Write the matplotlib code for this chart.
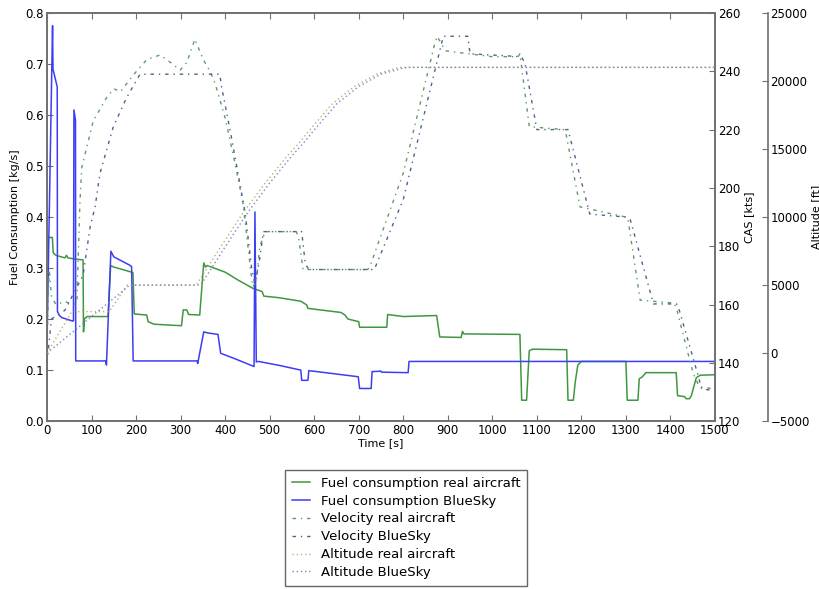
import numpy as np
import matplotlib.pyplot as plt

# fuel flow, real aircraft [kg/s]
t_fuel_real = [0, 12, 14, 20, 40, 44, 47, 60, 81, 82, 84, 87, 90, 137, 143, 150, 190, 193,
               196, 224, 227, 240, 302, 306, 314, 318, 343, 352, 356, 360, 400, 430, 463,
               483, 487, 520, 570, 583, 586, 660, 669, 676, 700, 702, 763, 765, 800, 875,
               882, 930, 933, 936, 1062, 1066, 1077, 1083, 1090, 1167, 1170, 1182, 1186,
               1192, 1200, 1300, 1303, 1327, 1330, 1337, 1345, 1413, 1416, 1432, 1435,
               1443, 1447, 1458, 1467, 1500]
fuel_real = [0.36, 0.36, 0.33, 0.325, 0.32, 0.325, 0.32, 0.318, 0.316, 0.175, 0.20, 0.203,
             0.205, 0.205, 0.305, 0.302, 0.292, 0.291, 0.21, 0.208, 0.195, 0.19, 0.187,
             0.218, 0.218, 0.209, 0.208, 0.31, 0.302, 0.305, 0.292, 0.276, 0.26, 0.254,
             0.245, 0.242, 0.235, 0.228, 0.221, 0.213, 0.208, 0.200, 0.195, 0.184, 0.184,
             0.209, 0.205, 0.207, 0.165, 0.164, 0.176, 0.171, 0.170, 0.041, 0.041, 0.138,
             0.141, 0.140, 0.041, 0.041, 0.075, 0.11, 0.117, 0.117, 0.041, 0.041, 0.083,
             0.087, 0.095, 0.095, 0.050, 0.048, 0.044, 0.044, 0.05, 0.085, 0.09, 0.091]

# fuel flow, BlueSky [kg/s]
t_fuel_bs = [0, 12.5, 13.5, 23, 23.5, 27, 33, 58, 59.5, 60.5, 64, 64.5, 132, 133.5, 143.5,
             150, 185, 190, 193.5, 337, 338.5, 352, 360, 384, 390, 420, 465, 467, 470,
             475, 523, 570, 572, 586, 588, 699, 702, 728, 730, 750, 751, 811, 813, 1500]
fuel_bs = [0.15, 0.775, 0.69, 0.655, 0.215, 0.208, 0.203, 0.196, 0.197, 0.61, 0.59, 0.118,
           0.118, 0.110, 0.333, 0.322, 0.306, 0.303, 0.118, 0.118, 0.113, 0.175, 0.173,
           0.17, 0.133, 0.123, 0.107, 0.41, 0.116, 0.117, 0.109, 0.100, 0.08, 0.08, 0.099,
           0.087, 0.064, 0.064, 0.097, 0.098, 0.096, 0.095, 0.117, 0.117]

# calibrated airspeed [kts]
t_cas_real = [0, 5, 10, 20, 40, 60, 67, 74, 78, 104, 134, 150, 165, 180, 201, 224, 254, 269,
              299, 314, 332, 351, 366, 377, 385, 400, 420, 440, 455, 462, 470, 478, 490,
              560, 566, 575, 720, 725, 800, 870, 876, 895, 1000, 1058, 1062, 1083, 1160,
              1165, 1197, 1300, 1305, 1332, 1408, 1413, 1451, 1465, 1500]
cas_real = [148, 172, 163, 160, 161, 160, 161, 195, 207, 223, 231, 234, 233, 236, 240, 244,
            245.6, 244, 240.4, 243, 251, 244, 240, 236, 232, 224, 210, 195, 175, 166, 168,
            180, 185, 185, 182, 172, 172, 173, 205, 249, 252, 247, 245, 245, 246, 221, 220,
            219, 193.5, 190, 189, 161.5, 160.5, 159, 136.4, 131.8, 131]

t_cas_bs = [0, 10, 40, 81, 97, 108, 119, 149, 179, 194, 209, 388, 392, 411, 429, 445, 460,
            467, 476, 486, 572, 580, 588, 735, 800, 890, 945, 950, 1065, 1073, 1100, 1170,
            1219, 1302, 1310, 1362, 1414, 1420, 1463, 1470, 1500]
cas_bs = [140, 155, 158, 170, 186.7, 193.5, 205, 221, 231, 235, 239, 239, 234.7, 219.9, 205,
          191.4, 172, 167, 174, 185, 185, 174, 172, 172, 196, 252, 252, 246, 245, 243, 220,
          220, 191, 190, 189, 160.2, 160.2, 158, 135.2, 131, 130.5]

# altitude [ft]
t_alt_real = [0, 55, 60, 140, 180, 335, 390, 440, 490, 540, 565, 590, 640, 690, 740, 790,
              800, 1500]
alt_real = [0, 3000, 3050, 3050, 5000, 5000, 7800, 10300, 12500, 14500, 15400, 16400, 18300,
            19600, 20500, 21000, 21000, 21000]

t_alt_bs = [0, 186, 345, 400, 450, 500, 550, 575, 600, 650, 700, 750, 800, 810, 1500]
alt_bs = [0, 5000, 5000, 7800, 10300, 12500, 14500, 15400, 16400, 18300, 19600, 20500,
          20950, 21000, 21000]

plt.rcParams['font.family'] = 'DejaVu Sans'
plt.rcParams['xtick.direction'] = 'in'
plt.rcParams['ytick.direction'] = 'in'

spine_col = '#707070'
dashdot = (0, (2.5, 3.5, 1, 3.5))
dotted = (0, (1, 2))

fig = plt.figure(figsize=(8.2, 5.89), dpi=100)
ax = fig.add_axes([0.0573, 0.285, 0.8146, 0.693])

l1, = ax.plot(t_fuel_real, fuel_real, color='#3f973f', lw=1.1, label='Fuel consumption real aircraft')
l2, = ax.plot(t_fuel_bs, fuel_bs, color='#3d3df5', lw=1.1, label='Fuel consumption BlueSky')
ax.set_xlim(0, 1500)
ax.set_ylim(0, 0.8)
ax.set_xticks(np.arange(0, 1501, 100))
ax.set_yticks(np.arange(0, 0.81, 0.1))
ax.set_xlabel('Time [s]', fontsize=8, labelpad=1)
ax.set_ylabel('Fuel Consumption [kg/s]', fontsize=8, labelpad=4)
ax.tick_params(labelsize=8.5, top=True, length=4, color=spine_col, pad=2)

ax2 = ax.twinx()
l3, = ax2.plot(t_cas_real, cas_real, color='#5f9a6a', lw=1.0, ls=dashdot, label='Velocity real aircraft')
l4, = ax2.plot(t_cas_bs, cas_bs, color='#55608f', lw=1.0, ls=dashdot, label='Velocity BlueSky')
ax2.set_ylim(120, 260)
ax2.set_yticks(np.arange(120, 261, 20))
ax2.set_ylabel('CAS [kts]', fontsize=8, labelpad=3)
ax2.tick_params(labelsize=8.5, length=4, color=spine_col, pad=2)

ax3 = ax.twinx()
ax3.spines['right'].set_position(('axes', 1.079))
l5, = ax3.plot(t_alt_real, alt_real, color='#b5b565', lw=1.0, ls=dotted, label='Altitude real aircraft')
l6, = ax3.plot(t_alt_bs, alt_bs, color='#7c86c8', lw=1.0, ls=dotted, label='Altitude BlueSky')
ax3.set_ylim(-5000, 25000)
ax3.set_yticks(np.arange(-5000, 25001, 5000))
ax3.set_ylabel('Altitude [ft]', fontsize=8, labelpad=1)
ax3.tick_params(labelsize=8.5, length=4, color=spine_col, pad=2)
for side in ['top', 'bottom', 'left']:
    ax3.spines[side].set_visible(False)

for a in (ax, ax2, ax3):
    for s in a.spines.values():
        s.set_color(spine_col)
        s.set_linewidth(1.2)

handles = [l1, l2, l3, l4, l5, l6]
fig.legend(handles, [h.get_label() for h in handles], loc='upper center',
           bbox_to_anchor=(0.495, 0.202), borderaxespad=0, fontsize=9.5, fancybox=False,
           edgecolor='#404040', handlelength=1.4, labelspacing=0.37, borderpad=0.5)

fig.savefig('out.png', dpi=100)
